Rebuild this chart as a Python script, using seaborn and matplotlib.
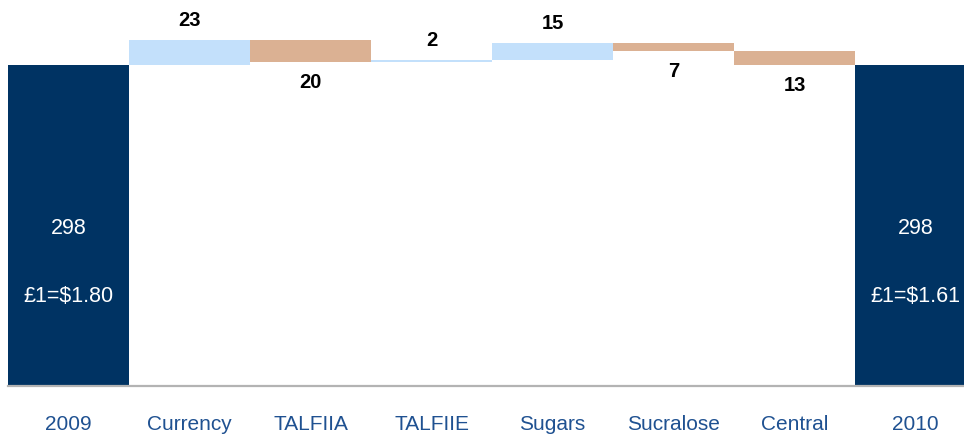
import numpy as np
import pandas as pd
import matplotlib
matplotlib.use('Agg')
import matplotlib.pyplot as plt
import seaborn as sns

categories = ['2009', 'Currency', 'TALFIIA', 'TALFIIE', 'Sugars', 'Sucralose', 'Central', '2010']
start_value = 298
changes = [23, -20, 2, 15, -7, -13]
end_value = 298
fx_labels = ['£1=$1.80', '£1=$1.61']

navy = '#003363'
up_color = '#c3e0fb'
down_color = '#dbb193'

# waterfall tops / bottoms
running = start_value + np.cumsum([0] + changes)
bottoms = [0]
tops = [start_value]
colors = [navy]
for i, c in enumerate(changes):
    lo = min(running[i], running[i + 1])
    hi = max(running[i], running[i + 1])
    bottoms.append(lo)
    tops.append(hi)
    colors.append(up_color if c > 0 else down_color)
bottoms.append(0)
tops.append(end_value)
colors.append(navy)

df = pd.DataFrame({'cat': categories, 'top': tops, 'bottom': bottoms})

sns.set_style('white')
plt.rcParams['font.family'] = ['Liberation Sans', 'DejaVu Sans']

fig = plt.figure(figsize=(9.64, 4.37), dpi=100)
ax = fig.add_axes([8 / 964, 51 / 437, 956 / 964, 386 / 437])

sns.barplot(data=df, x='cat', y='top', hue='cat', palette=colors, width=1,
            saturation=1, legend=False, ax=ax, linewidth=0)
sns.barplot(data=df, x='cat', y='bottom', color='white', width=1,
            saturation=1, ax=ax, linewidth=0)

ax.set_xlim(-0.5, 7.4)
ax.set_ylim(0, 358.3)
ax.set_xlabel('')
ax.set_ylabel('')
ax.set_yticks([])
for s in ['left', 'right', 'top']:
    ax.spines[s].set_visible(False)
ax.spines['bottom'].set_color('#b3b3b3')
ax.spines['bottom'].set_linewidth(1.6)
ax.tick_params(axis='x', length=0, pad=21, labelsize=15, labelcolor='#1f5191')

# change labels
for i, c in enumerate(changes, start=1):
    if c > 0:
        ax.annotate(str(abs(c)), (i, tops[i]), xytext=(0, 14), textcoords='offset points',
                    ha='center', va='center', fontsize=14.5, fontweight='bold', color='black')
    else:
        ax.annotate(str(abs(c)), (i, bottoms[i]), xytext=(0, -15), textcoords='offset points',
                    ha='center', va='center', fontsize=14.5, fontweight='bold', color='black')

# totals
for idx, total, fx in [(0, start_value, fx_labels[0]), (7, end_value, fx_labels[1])]:
    ax.text(idx, total * 0.49, str(total), ha='center', va='center', color='white', fontsize=15.5)
    ax.text(idx, total * 0.28, fx, ha='center', va='center', color='white', fontsize=15.5)

fig.savefig('out.png', dpi=100)
